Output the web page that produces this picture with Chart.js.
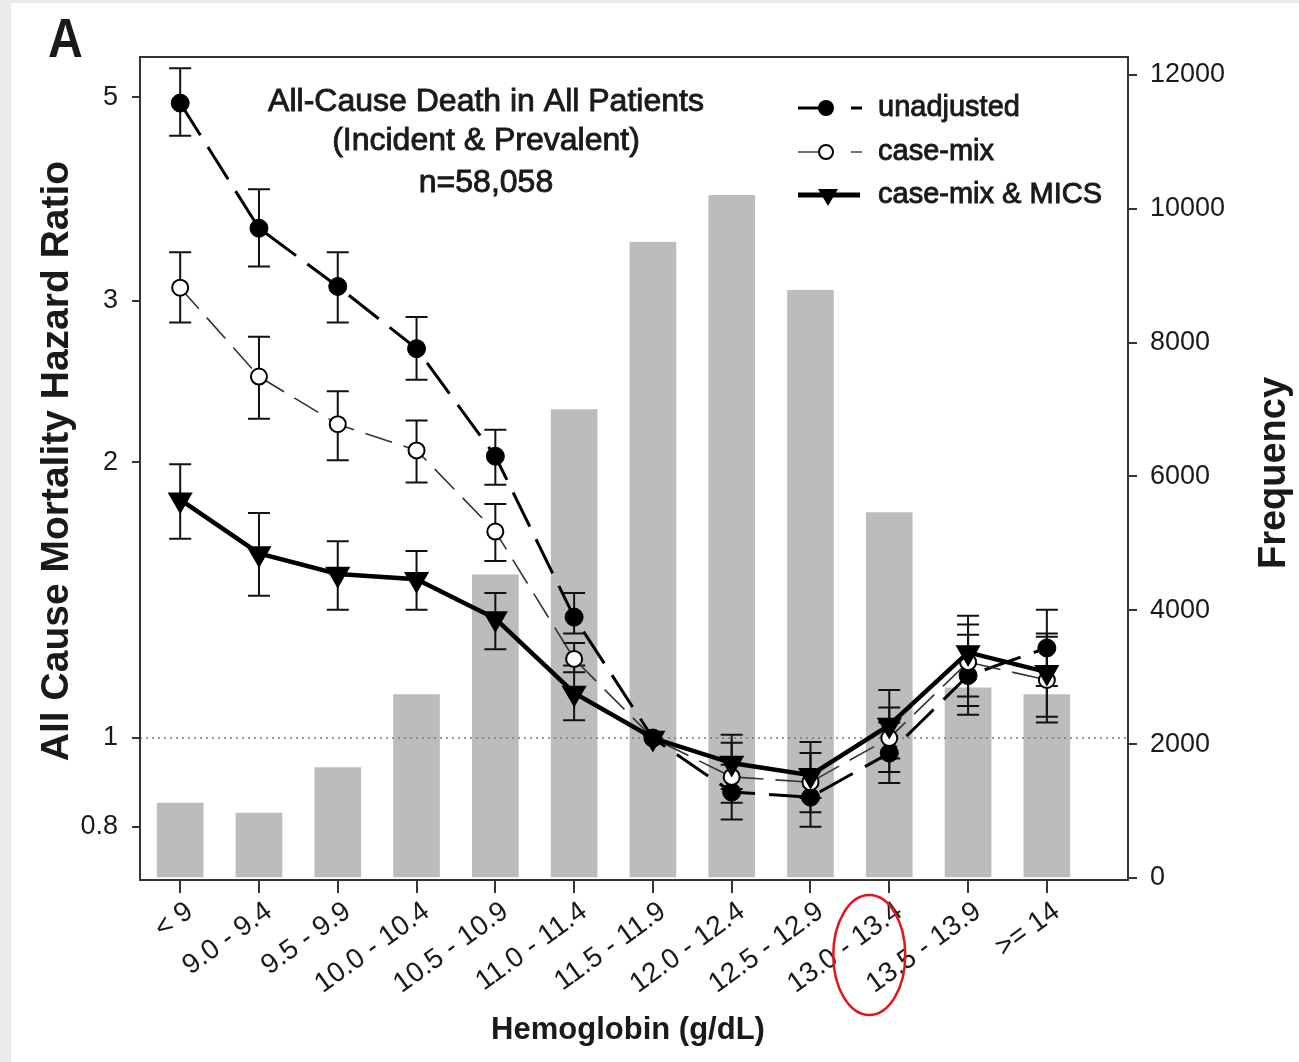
<!DOCTYPE html>
<html>
<head>
<meta charset="utf-8">
<script src="https://cdn.jsdelivr.net/npm/chart.js@4.4.1/dist/chart.umd.min.js"></script>
<style>
  html, body { margin: 0; padding: 0; background: #ebebeb; width: 1299px; height: 1062px; overflow: hidden; }
  #wrap { position: absolute; left: 11px; top: 3px; width: 1288px; height: 1059px; background: #ffffff; }
  canvas { display: block; }
</style>
</head>
<body>
<div id="wrap"><canvas id="c"></canvas></div>
<script>
// ---------------- data ----------------
const categories = ["< 9", "9.0 - 9.4", "9.5 - 9.9", "10.0 - 10.4", "10.5 - 10.9", "11.0 - 11.4",
                    "11.5 - 11.9", "12.0 - 12.4", "12.5 - 12.9", "13.0 - 13.4", "13.5 - 13.9", ">= 14"];
const frequency = [1120, 970, 1650, 2740, 4530, 7000, 9500, 10200, 8780, 5460, 2840, 2740];

const hrUnadjusted     = [4.93, 3.60, 3.11, 2.66, 2.03, 1.355, 1.0, 0.873, 0.862, 0.963, 1.17, 1.254];
const hrUnadjustedLow  = [4.54, 3.27, 2.84, 2.46, 1.89, 1.30, null, 0.815, 0.80, 0.893, 1.06, 1.14];
const hrUnadjustedHigh = [5.38, 3.97, 3.39, 2.88, 2.17, 1.44, null, 0.935, 0.925, 1.04, 1.296, 1.38];

const hrCaseMix     = [3.10, 2.48, 2.20, 2.06, 1.68, 1.22, 1.0, 0.907, 0.895, 1.0, 1.21, 1.157];
const hrCaseMixLow  = [2.84, 2.23, 2.01, 1.90, 1.56, 1.18, null, 0.85, 0.83, 0.918, 1.084, 1.04];
const hrCaseMixHigh = [3.39, 2.74, 2.39, 2.22, 1.80, 1.27, null, 0.988, 0.963, 1.08, 1.33, 1.29];

const hrMics     = [1.82, 1.59, 1.51, 1.49, 1.35, 1.12, 1.0, 0.939, 0.911, 1.033, 1.24, 1.18];
const hrMicsLow  = [1.65, 1.43, 1.38, 1.38, 1.25, 1.046, null, 0.88, 0.86, 0.95, 1.11, 1.055];
const hrMicsHigh = [1.99, 1.76, 1.64, 1.60, 1.44, 1.20, null, 1.008, 0.99, 1.128, 1.36, 1.30];

const hrTickValues   = [0.8, 1, 2, 3, 5];
const freqTickValues = [0, 2000, 4000, 6000, 8000, 10000, 12000];

const titleLines = ["All-Cause Death in All Patients", "(Incident & Prevalent)", "n=58,058"];
const legendLabels = ["unadjusted", "case-mix", "case-mix & MICS"];
const yTitle = "All Cause Mortality Hazard Ratio";
const y2Title = "Frequency";
const xTitle = "Hemoglobin (g/dL)";
const panelLabel = "A";

// --------------- helpers ---------------
const FONT = "'Liberation Sans', Arial, Helvetica, sans-serif";
const toXY = arr => arr.map((v, i) => ({ x: i, y: v }));

const errorSets = [
  { lo: hrUnadjustedLow, hi: hrUnadjustedHigh },
  { lo: hrCaseMixLow, hi: hrCaseMixHigh },
  { lo: hrMicsLow, hi: hrMicsHigh }
];

function heavyText(ctx, t, x, y) {
  ctx.fillText(t, x, y);
  ctx.strokeText(t, x, y);
}

const decorPlugin = {
  id: 'decor',
  afterDatasetDraw(chart, args) {
    if (args.index !== 0) return; // after the bars
    const ctx = chart.ctx, xs = chart.scales.x, ys = chart.scales.y, a = chart.chartArea;
    // dotted reference line at HR = 1
    ctx.save();
    ctx.strokeStyle = '#777';
    ctx.lineWidth = 1.5;
    ctx.setLineDash([2, 4]);
    const y1 = ys.getPixelForValue(1);
    ctx.beginPath(); ctx.moveTo(a.left, y1); ctx.lineTo(a.right, y1); ctx.stroke();
    ctx.restore();
    // error bars
    ctx.save();
    ctx.strokeStyle = '#111';
    ctx.lineWidth = 2;
    errorSets.forEach(set => {
      set.lo.forEach((lo, i) => {
        const hi = set.hi[i];
        if (lo == null || hi == null) return;
        const x = xs.getPixelForValue(i);
        const yl = ys.getPixelForValue(lo), yh = ys.getPixelForValue(hi);
        ctx.beginPath();
        ctx.moveTo(x, yl); ctx.lineTo(x, yh);
        ctx.moveTo(x - 11, yl); ctx.lineTo(x + 11, yl);
        ctx.moveTo(x - 11, yh); ctx.lineTo(x + 11, yh);
        ctx.stroke();
      });
    });
    ctx.restore();
  },
  afterDraw(chart) {
    const ctx = chart.ctx, a = chart.chartArea, xs = chart.scales.x;
    ctx.save();
    // frame
    ctx.strokeStyle = '#333';
    ctx.lineWidth = 2;
    ctx.strokeRect(a.left, a.top, a.right - a.left, a.bottom - a.top);

    ctx.fillStyle = '#1a1a1a';
    ctx.strokeStyle = '#1a1a1a';
    ctx.lineWidth = 0.9;
    // chart title
    ctx.font = `32px ${FONT}`;
    ctx.textAlign = 'center';
    ctx.textBaseline = 'middle';
    const tcx = 475;
    [99, 138, 180].forEach((y, k) => heavyText(ctx, titleLines[k], tcx, y));

    // legend
    const rows = [105, 149, 192];
    // row 1: unadjusted
    ctx.strokeStyle = '#000'; ctx.fillStyle = '#000';
    ctx.lineWidth = 3;
    ctx.beginPath(); ctx.moveTo(787, rows[0]); ctx.lineTo(815, rows[0]); ctx.stroke();
    ctx.beginPath(); ctx.arc(815, rows[0], 8, 0, Math.PI * 2); ctx.fill();
    ctx.beginPath(); ctx.moveTo(840, rows[0]); ctx.lineTo(851, rows[0]); ctx.stroke();
    // row 2: case-mix
    ctx.strokeStyle = '#444'; ctx.lineWidth = 1.5;
    ctx.beginPath(); ctx.moveTo(787, rows[1]); ctx.lineTo(808, rows[1]); ctx.stroke();
    ctx.beginPath(); ctx.moveTo(840, rows[1]); ctx.lineTo(851, rows[1]); ctx.stroke();
    ctx.strokeStyle = '#000'; ctx.lineWidth = 2; ctx.fillStyle = '#fff';
    ctx.beginPath(); ctx.arc(815, rows[1], 7, 0, Math.PI * 2); ctx.fill(); ctx.stroke();
    // row 3: case-mix & MICS
    ctx.fillStyle = '#000'; ctx.strokeStyle = '#000'; ctx.lineWidth = 5;
    ctx.beginPath(); ctx.moveTo(787, rows[2]); ctx.lineTo(849, rows[2]); ctx.stroke();
    ctx.beginPath();
    ctx.moveTo(807, rows[2] - 6); ctx.lineTo(827, rows[2] - 6); ctx.lineTo(817, rows[2] + 11); ctx.closePath(); ctx.fill();

    ctx.fillStyle = '#1a1a1a';
    ctx.strokeStyle = '#1a1a1a';
    ctx.lineWidth = 0.9;
    ctx.font = `29px ${FONT}`;
    ctx.textAlign = 'left';
    legendLabels.forEach((t, k) => heavyText(ctx, t, 867, rows[k]));

    // panel letter
    ctx.save();
    ctx.font = `bold 56px ${FONT}`;
    ctx.textAlign = 'left';
    ctx.textBaseline = 'alphabetic';
    ctx.translate(37, 54);
    ctx.scale(0.86, 1);
    ctx.fillText(panelLabel, 0, 0);
    ctx.restore();

    // axis titles
    ctx.font = `bold 39px ${FONT}`;
    ctx.textAlign = 'center';
    ctx.textBaseline = 'middle';
    ctx.save(); ctx.translate(46, 458); ctx.rotate(-Math.PI / 2); ctx.fillText(yTitle, 0, 0); ctx.restore();
    ctx.font = `bold 38px ${FONT}`;
    ctx.save(); ctx.translate(1264, 470); ctx.rotate(-Math.PI / 2); ctx.fillText(y2Title, 0, 0); ctx.restore();
    ctx.font = `bold 31px ${FONT}`;
    ctx.fillText(xTitle, 617, 1027);

    // red annotation ellipse around the 13.0 - 13.4 label
    ctx.strokeStyle = '#e3141c';
    ctx.lineWidth = 2.5;
    ctx.beginPath();
    ctx.ellipse(xs.getPixelForValue(9) - 20, a.bottom + 75, 36, 60, 0, 0, Math.PI * 2);
    ctx.stroke();
    ctx.restore();
  }
};

const tickFont = { family: FONT, size: 27 };

new Chart(document.getElementById('c'), {
  data: {
    datasets: [
      {
        type: 'bar',
        label: 'Frequency',
        data: toXY(frequency),
        yAxisID: 'y2',
        xAxisID: 'x',
        backgroundColor: '#bcbcbc',
        borderWidth: 0,
        barThickness: 46,
        order: 10
      },
      {
        type: 'line',
        label: legendLabels[0],
        data: toXY(hrUnadjusted),
        yAxisID: 'y',
        borderColor: '#000',
        borderWidth: 3,
        borderDash: [38, 14],
        pointStyle: 'circle',
        pointRadius: 9,
        pointBackgroundColor: '#000',
        pointBorderColor: '#000',
        pointBorderWidth: 1,
        tension: 0,
        order: 3
      },
      {
        type: 'line',
        label: legendLabels[1],
        data: toXY(hrCaseMix),
        yAxisID: 'y',
        borderColor: '#333',
        borderWidth: 1.6,
        borderDash: [28, 12],
        pointStyle: 'circle',
        pointRadius: 8,
        pointBackgroundColor: '#fff',
        pointBorderColor: '#000',
        pointBorderWidth: 2,
        tension: 0,
        order: 2
      },
      {
        type: 'line',
        label: legendLabels[2],
        data: toXY(hrMics),
        yAxisID: 'y',
        borderColor: '#000',
        borderWidth: 4.5,
        pointStyle: 'triangle',
        rotation: 180,
        pointRotation: 180,
        pointRadius: 10,
        pointBackgroundColor: '#000',
        pointBorderColor: '#000',
        tension: 0,
        order: 1
      }
    ]
  },
  options: {
    responsive: true,
    maintainAspectRatio: false,
    animation: false,
    layout: { padding: { top: 54, left: 0, right: 0, bottom: 0 } },
    plugins: { legend: { display: false }, tooltip: { enabled: false } },
    scales: {
      x: {
        type: 'linear',
        position: 'bottom',
        offset: false,
        min: -0.51,
        max: 12.03,
        afterBuildTicks: s => { s.ticks = categories.map((c, i) => ({ value: i })); },
        afterFit: s => { s.height = 182; },
        ticks: {
          callback: v => categories[v],
          font: { family: FONT, size: 28 },
          color: '#1a1a1a',
          minRotation: 36,
          maxRotation: 36,
          padding: 2,
          labelOffset: 10,
          autoSkip: false
        },
        grid: { display: true, offset: false, drawOnChartArea: false, drawTicks: true, tickLength: 13, color: '#333', lineWidth: 2 },
        border: { display: false }
      },
      y: {
        type: 'logarithmic',
        position: 'left',
        min: 0.70,
        max: 5.535,
        afterBuildTicks: s => { s.ticks = hrTickValues.map(v => ({ value: v })); },
        afterFit: s => { s.width = 129; },
        ticks: { callback: v => String(v), font: tickFont, color: '#1a1a1a', padding: 14, autoSkip: false },
        grid: { display: true, drawOnChartArea: false, drawTicks: true, tickLength: 8, color: '#333', lineWidth: 2 },
        border: { display: false }
      },
      y2: {
        type: 'linear',
        position: 'right',
        min: -30,
        max: 12268,
        afterBuildTicks: s => { s.ticks = freqTickValues.map(v => ({ value: v })); },
        afterFit: s => { s.width = 171; },
        ticks: { callback: v => String(v), font: tickFont, color: '#1a1a1a', padding: 13, autoSkip: false },
        grid: { display: true, drawOnChartArea: false, drawTicks: true, tickLength: 9, color: '#333', lineWidth: 2 },
        border: { display: false }
      }
    }
  },
  plugins: [decorPlugin]
});
</script>
</body>
</html>
